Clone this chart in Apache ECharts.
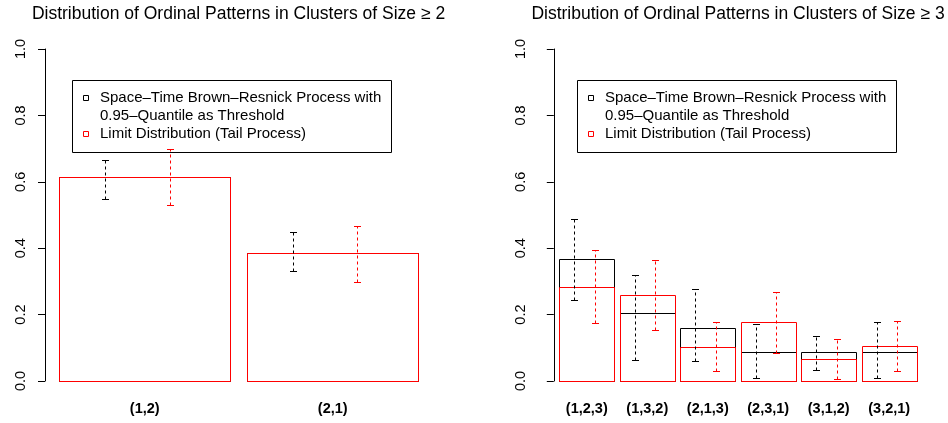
<!DOCTYPE html>
<html>
<head>
<meta charset="utf-8">
<script src="https://cdn.jsdelivr.net/npm/echarts@6/dist/echarts.min.js"></script>
<style>
  html, body { margin: 0; padding: 0; background: #fff; }
</style>
</head>
<body>
<div id="chart" style="width: 948px; height: 423px;"></div>
<script>
// clusters of size >= 2
var patterns2 = ['(1,2)', '(2,1)'];
var brown2 = [0.615, 0.385];
var brownLo2 = [0.548, 0.331];
var brownHi2 = [0.666, 0.450];
var limit2 = [0.615, 0.385];
var limitLo2 = [0.530, 0.298];
var limitHi2 = [0.699, 0.467];

// clusters of size >= 3
var patterns3 = ['(1,2,3)', '(1,3,2)', '(2,1,3)', '(2,3,1)', '(3,1,2)', '(3,2,1)'];
var brown3 = [0.367, 0.204, 0.161, 0.087, 0.087, 0.087];
var brownLo3 = [0.244, 0.064, 0.061, 0.010, 0.034, 0.010];
var brownHi3 = [0.488, 0.319, 0.277, 0.173, 0.136, 0.178];
var limit3 = [0.284, 0.259, 0.102, 0.177, 0.066, 0.104];
var limitLo3 = [0.176, 0.154, 0.030, 0.085, 0.006, 0.030];
var limitHi3 = [0.396, 0.365, 0.178, 0.268, 0.127, 0.181];

var titles = [
  'Distribution of Ordinal Patterns in Clusters of Size \u2265 2',
  'Distribution of Ordinal Patterns in Clusters of Size \u2265 3'
];

var legendLabels = [
  'Space\u2013Time Brown\u2013Resnick Process with',
  '0.95\u2013Quantile as Threshold',
  'Limit Distribution (Tail Process)'
];

var FONT = 'Liberation Sans, Arial, Helvetica, sans-serif';

// barplot-like layout: bar width 1, space 0.1
function centers(n) {
  var c = [];
  for (var i = 0; i < n; i++) c.push(0.1 + i * 1.1 + 0.5);
  return c;
}

function xRange(n) {
  var lo = 0.1, hi = n * 1.1;
  var ext = (hi - lo) * 0.04;
  return [lo - ext, hi + ext];
}

function barData(vals) {
  var c = centers(vals.length);
  return vals.map(function (v, i) { return [c[i], v]; });
}

function errData(lo, hi, offset) {
  var c = centers(lo.length);
  return lo.map(function (v, i) { return [c[i] + offset, v, hi[i]]; });
}

function renderBar(params, api) {
  var c = api.value(0), v = api.value(1);
  var p0 = api.coord([c - 0.5, v]);
  var p1 = api.coord([c + 0.5, 0]);
  var x0 = Math.round(p0[0]) + 0.5, y0 = Math.round(p0[1]) + 0.5;
  var x1 = Math.round(p1[0]) + 0.5, y1 = Math.round(p1[1]) + 0.5;
  return {
    type: 'rect',
    shape: { x: x0, y: y0, width: x1 - x0, height: y1 - y0 },
    style: { fill: 'none', stroke: api.visual('color'), lineWidth: 1 }
  };
}

function renderErr(params, api) {
  var x = api.value(0);
  var pLo = api.coord([x, api.value(1)]);
  var pHi = api.coord([x, api.value(2)]);
  var px = Math.round(pLo[0]) + 0.5;
  var yl = Math.round(pLo[1]) + 0.5, yh = Math.round(pHi[1]) + 0.5;
  var col = api.visual('color');
  return {
    type: 'group',
    children: [
      { type: 'line', shape: { x1: px, y1: yl, x2: px, y2: yh },
        style: { stroke: col, lineWidth: 1, lineDash: [3, 3] } },
      { type: 'line', shape: { x1: px - 3.5, y1: yl, x2: px + 3.5, y2: yl },
        style: { stroke: col, lineWidth: 1 } },
      { type: 'line', shape: { x1: px - 3.5, y1: yh, x2: px + 3.5, y2: yh },
        style: { stroke: col, lineWidth: 1 } }
    ]
  };
}

function xAxisFor(idx, labels) {
  var r = xRange(labels.length);
  var c = centers(labels.length);
  return {
    type: 'value', gridIndex: idx, min: r[0], max: r[1],
    axisLine: { show: false }, axisTick: { show: false }, splitLine: { show: false },
    axisLabel: {
      customValues: c,
      margin: 20,
      fontSize: 14.5, fontWeight: 'bold', fontFamily: FONT, color: '#000',
      formatter: function (v) {
        for (var i = 0; i < c.length; i++) if (Math.abs(c[i] - v) < 1e-6) return labels[i];
        return '';
      }
    }
  };
}

function yAxisFor(idx) {
  return {
    type: 'value', gridIndex: idx, min: 0, max: 1, interval: 0.2,
    axisLine: { show: true, lineStyle: { color: '#000', width: 1 } },
    axisTick: { show: true, length: 7, lineStyle: { color: '#000' } },
    splitLine: { show: false },
    axisLabel: {
      rotate: 90, margin: 17,
      fontSize: 14.5, fontFamily: FONT, color: '#000',
      formatter: function (v) { return v.toFixed(1); }
    }
  };
}

function legendGraphics(left) {
  var g = [];
  g.push({ type: 'rect', shape: { x: left + 0.5, y: 80.5, width: 319, height: 72 },
    style: { fill: 'none', stroke: '#000', lineWidth: 1 } });
  g.push({ type: 'rect', shape: { x: left + 11.5, y: 95.5, width: 5, height: 5 },
    style: { fill: 'none', stroke: '#000', lineWidth: 1 } });
  g.push({ type: 'rect', shape: { x: left + 11.5, y: 131.5, width: 5, height: 5 },
    style: { fill: 'none', stroke: '#ff0000', lineWidth: 1 } });
  var ys = [98, 116, 134];
  legendLabels.forEach(function (t, i) {
    g.push({ type: 'text', x: left + 28, y: ys[i],
      style: { text: t, fontSize: 15, fontFamily: FONT, fill: '#000', verticalAlign: 'middle' } });
  });
  return g;
}

function titleGraphic(text, cx) {
  return { type: 'text', x: cx, y: 14,
    style: { text: text, fontSize: 17.5, fontFamily: FONT, fill: '#000', align: 'center', verticalAlign: 'middle' } };
}

var myChart = echarts.init(document.getElementById('chart'));

var option = {
  backgroundColor: '#fff',
  animation: false,
  grid: [
    { left: 45, top: 49, width: 387.5, height: 332 },
    { left: 545, top: 49, width: 386, height: 332 }
  ],
  xAxis: [xAxisFor(0, patterns2), xAxisFor(1, patterns3)],
  yAxis: [yAxisFor(0), yAxisFor(1)],
  graphic: [titleGraphic(titles[0], 238.5), titleGraphic(titles[1], 738)]
    .concat(legendGraphics(72)).concat(legendGraphics(577)),
  series: [
    { name: 'brown2', type: 'custom', xAxisIndex: 0, yAxisIndex: 0, renderItem: renderBar,
      itemStyle: { color: '#000' }, data: barData(brown2), z: 1 },
    { name: 'limit2', type: 'custom', xAxisIndex: 0, yAxisIndex: 0, renderItem: renderBar,
      itemStyle: { color: '#ff0000' }, data: barData(limit2), z: 2 },
    { name: 'brownErr2', type: 'custom', xAxisIndex: 0, yAxisIndex: 0, renderItem: renderErr,
      itemStyle: { color: '#000' }, data: errData(brownLo2, brownHi2, -0.23), z: 3 },
    { name: 'limitErr2', type: 'custom', xAxisIndex: 0, yAxisIndex: 0, renderItem: renderErr,
      itemStyle: { color: '#ff0000' }, data: errData(limitLo2, limitHi2, 0.145), z: 3 },

    { name: 'brown3', type: 'custom', xAxisIndex: 1, yAxisIndex: 1, renderItem: renderBar,
      itemStyle: { color: '#000' }, data: barData(brown3), z: 1 },
    { name: 'limit3', type: 'custom', xAxisIndex: 1, yAxisIndex: 1, renderItem: renderBar,
      itemStyle: { color: '#ff0000' }, data: barData(limit3), z: 2 },
    { name: 'brownErr3', type: 'custom', xAxisIndex: 1, yAxisIndex: 1, renderItem: renderErr,
      itemStyle: { color: '#000' }, data: errData(brownLo3, brownHi3, -0.23), z: 3 },
    { name: 'limitErr3', type: 'custom', xAxisIndex: 1, yAxisIndex: 1, renderItem: renderErr,
      itemStyle: { color: '#ff0000' }, data: errData(limitLo3, limitHi3, 0.145), z: 3 }
  ]
};

myChart.setOption(option);
window.addEventListener('resize', myChart.resize);
</script>
</body>
</html>
